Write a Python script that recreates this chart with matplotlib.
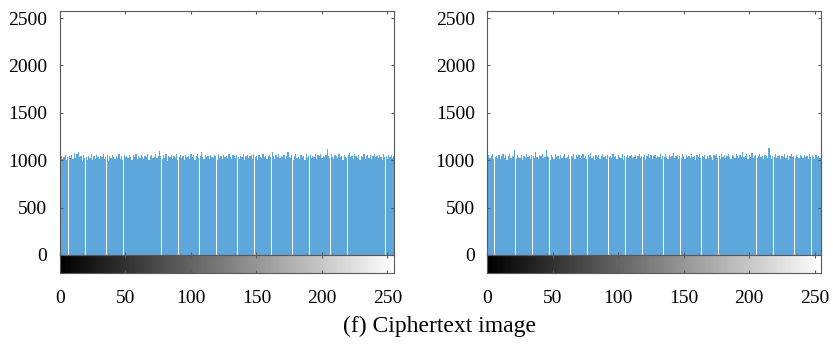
import numpy as np
import matplotlib
matplotlib.use('Agg')
import matplotlib.pyplot as plt

plt.rcParams['font.family'] = ['Liberation Serif', 'DejaVu Serif']

# gray levels 0..255 and the two histograms (counts)
gray_levels = np.arange(256)

hist_left = [
    1008, 1042, 1015, 1037, 1051, 1002, 1029, 1046, 1018, 1055, 1011, 1078, 1024, 1061, 1089, 1033,
    1047, 991, 1058, 1020, 1036, 1003, 1049, 1027, 1062, 998, 1041, 1016, 1053, 1031, 1007, 1044,
    1038, 1060, 1012, 1029, 1050, 995, 1043, 1021, 1057, 1034, 1009, 1048, 1026, 1063, 1017, 1040,
    1001, 1054, 1032, 1046, 1019, 1059, 1036, 1005, 1051, 1028, 1065, 1013, 1045, 1022, 1056, 1035,
    1010, 1049, 1030, 1067, 1002, 1041, 1055, 1018, 1037, 1060, 1024, 1047, 1092, 1039, 1014, 1052,
    1027, 1063, 996, 1044, 1033, 1058, 1011, 1049, 1025, 1068, 1004, 1036, 1053, 1020, 1042, 1006,
    1057, 1031, 1045, 1016, 1061, 1028, 1050, 999, 1039, 1064, 1023, 1047, 1088, 1035, 1012, 1054,
    1030, 1046, 1008, 1059, 1037, 1021, 1052, 1043, 1003, 1066, 1026, 1040, 1015, 1055, 1032, 1048,
    1019, 1062, 1034, 1007, 1050, 1041, 1023, 1058, 1036, 1011, 1047, 1029, 1064, 1000, 1044, 1057,
    1025, 1039, 1053, 1014, 1060, 1032, 1046, 1005, 1056, 1038, 1022, 1067, 1030, 1049, 1017, 1043,
    1059, 1028, 1091, 1040, 1009, 1054, 1035, 1062, 1020, 1045, 1031, 1056, 1013, 1048, 1086, 1037,
    1024, 1051, 1003, 1044, 1061, 1027, 1038, 1015, 1058, 1033, 1049, 1006, 1063, 1026, 1042, 1055,
    1018, 1047, 1034, 1060, 1010, 1052, 1039, 1069, 1021, 1044, 1030, 1057, 1115, 1041, 1025, 1062,
    1036, 1008, 1053, 1045, 1019, 1066, 1032, 1048, 1002, 1059, 1037, 1023, 1055, 1074, 1029, 1046,
    1013, 1061, 1040, 1027, 1056, 1004, 1049, 1035, 1064, 1016, 1043, 1058, 1026, 1050, 1011, 1039,
    1060, 1031, 1047, 1020, 1054, 1037, 1005, 1063, 1028, 1045, 1017, 1052, 1034, 1058, 1022, 1040,
]

hist_right = [
    1030, 1052, 1018, 1044, 1061, 1009, 1036, 1048, 1023, 1057, 1014, 1041, 1066, 1027, 1050, 1005,
    1039, 1062, 1021, 1045, 1032, 1104, 1011, 1053, 1037, 1026, 1058, 1003, 1046, 1019, 1064, 1034,
    1049, 1015, 1056, 1040, 1024, 1087, 1031, 1008, 1051, 1043, 1060, 1020, 1035, 1112, 1047, 1028,
    1001, 1055, 1038, 1016, 1063, 1033, 1042, 1010, 1058, 1025, 1047, 1069, 1022, 1036, 1054, 1013,
    1044, 1029, 1061, 1007, 1050, 1034, 1057, 1019, 1041, 1066, 1026, 1048, 1012, 1055, 1037, 1071,
    1023, 1046, 1004, 1059, 1032, 1051, 1017, 1043, 1063, 1028, 1039, 1009, 1056, 1035, 1048, 1020,
    1060, 1031, 1045, 1014, 1052, 1038, 1024, 1067, 1006, 1049, 1033, 1058, 1018, 1042, 1055, 1027,
    1036, 1053, 1011, 1047, 1064, 1022, 1040, 1030, 1057, 1002, 1044, 1061, 1025, 1050, 1016, 1039,
    1054, 1021, 1048, 1035, 1060, 1013, 1045, 1028, 1069, 1037, 1008, 1052, 1031, 1046, 1079, 1024,
    1043, 1058, 1017, 1039, 1026, 1063, 1049, 1010, 1055, 1034, 1047, 1020, 1062, 1029, 1041, 1006,
    1050, 1033, 1065, 1019, 1046, 1038, 1057, 1012, 1044, 1025, 1059, 1036, 1001, 1053, 1040, 1068,
    1027, 1048, 1015, 1061, 1034, 1051, 1022, 1045, 1070, 1031, 1009, 1056, 1039, 1024, 1064, 1042,
    1018, 1053, 1037, 1089, 1028, 1046, 1060, 1011, 1050, 1035, 1072, 1026, 1043, 1057, 1020, 1048,
    1062, 1030, 1045, 1016, 1058, 1039, 1024, 1128, 1052, 1008, 1047, 1033, 1066, 1021, 1041, 1055,
    1014, 1049, 1036, 1060, 1027, 1053, 1005, 1044, 1067, 1032, 1048, 1019, 1057, 1038, 1025, 1051,
    1046, 1020, 1059, 1034, 1042, 1011, 1063, 1028, 1050, 1037, 1016, 1054, 1031, 1045, 1023, 1040,
]

x_ticks = [0, 50, 100, 150, 200, 250]
y_ticks = [0, 500, 1000, 1500, 2000, 2500]
caption = '(f) Ciphertext image'

fig = plt.figure(figsize=(8.33, 3.44), dpi=100)

edge = '#5a5a5a'
panel_lefts = [0.072, 0.585]
for left, counts in zip(panel_lefts, [hist_left, hist_right]):
    # histogram axes
    ax = fig.add_axes([left, 0.259, 0.401, 0.709])
    ax.bar(gray_levels, counts, width=0.95, color='#5ea7dd', linewidth=0)
    ax.set_xlim(0, 255)
    ax.set_ylim(0, 2574)
    ax.set_xticks(x_ticks)
    ax.set_xticklabels([])
    ax.set_yticks(y_ticks)
    ax.tick_params(direction='in', length=2.5, width=0.8, labelsize=14, pad=9,
                   top=True, right=True, colors=edge, labelcolor='black')
    for sp in ax.spines.values():
        sp.set_color(edge)
        sp.set_linewidth(0.8)

    # gray colorbar under the histogram
    cax = fig.add_axes([left, 0.206, 0.401, 0.053])
    cax.imshow(gray_levels[np.newaxis, :], cmap='gray', aspect='auto',
               extent=[0, 255, 0, 1], interpolation='bilinear')
    cax.set_xlim(0, 255)
    cax.set_ylim(0, 1)
    cax.set_yticks([])
    cax.set_xticks(x_ticks)
    cax.tick_params(direction='in', length=2.5, width=0.8, labelsize=14, pad=12,
                    top=True, colors=edge, labelcolor='black')
    for sp in cax.spines.values():
        sp.set_color(edge)
        sp.set_linewidth(0.8)

fig.text(0.528, 0.052, caption, ha='center', va='center', fontsize=17)

plt.savefig('out.png', dpi=100)
